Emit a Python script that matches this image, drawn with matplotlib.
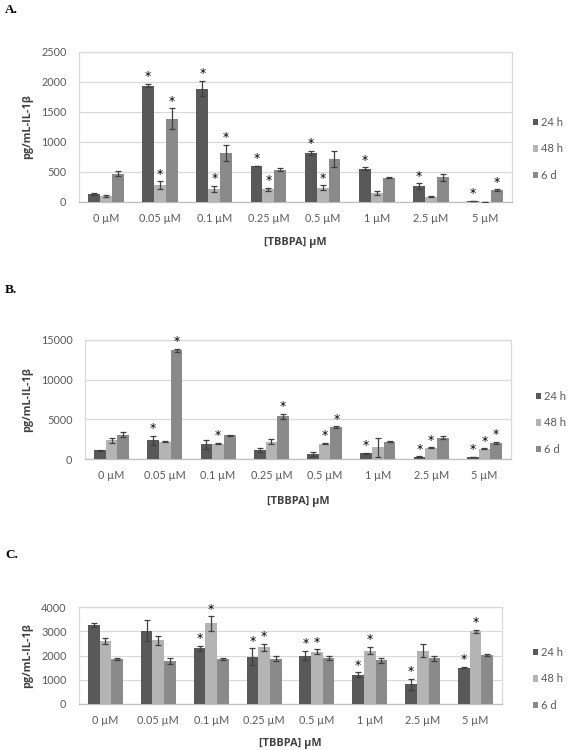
import matplotlib
matplotlib.use("Agg")
import matplotlib.pyplot as plt
import numpy as np
from matplotlib.patches import Patch

plt.rcParams['font.family'] = ['Lato', 'DejaVu Sans']

categories = ["0 µM", "0.05 µM", "0.1 µM", "0.25 µM", "0.5 µM", "1 µM", "2.5 µM", "5 µM"]
series_names = ["24 h", "48 h", "6 d"]

# Panel A
a_24h = [130, 1940, 1890, 600, 820, 550, 260, 20]
a_48h = [100, 280, 220, 210, 240, 150, 90, 0]
a_6d = [470, 1390, 820, 540, 720, 405, 410, 200]
a_24h_err = [20, 25, 125, 8, 35, 25, 50, 0]
a_48h_err = [20, 65, 55, 30, 40, 40, 10, 0]
a_6d_err = [45, 170, 135, 25, 130, 10, 55, 10]
a_stars = [[0, 1, 1, 1, 1, 1, 1, 1], [0, 1, 1, 1, 1, 0, 0, 0], [0, 1, 1, 0, 0, 0, 0, 1]]
a_ticks = [0, 500, 1000, 1500, 2000, 2500]

# Panel B
b_24h = [1100, 2350, 1850, 1100, 600, 700, 300, 250]
b_48h = [2350, 2200, 1950, 2200, 1950, 1450, 1400, 1300]
b_6d = [3050, 13700, 3000, 5400, 4000, 2200, 2700, 2050]
b_24h_err = [50, 550, 550, 250, 250, 80, 50, 30]
b_48h_err = [300, 100, 50, 350, 60, 1150, 60, 60]
b_6d_err = [300, 200, 50, 300, 100, 60, 200, 100]
b_stars = [[0, 1, 0, 0, 0, 1, 1, 1], [0, 0, 1, 0, 1, 0, 1, 1], [0, 1, 0, 1, 1, 0, 0, 1]]
b_ticks = [0, 5000, 10000, 15000]

# Panel C
c_24h = [3250, 3030, 2300, 1950, 2000, 1200, 820, 1500]
c_48h = [2600, 2630, 3320, 2330, 2160, 2200, 2200, 3000]
c_6d = [1850, 1780, 1860, 1870, 1900, 1800, 1880, 2020]
c_24h_err = [70, 420, 110, 350, 200, 100, 230, 20]
c_48h_err = [130, 180, 300, 140, 100, 150, 260, 70]
c_6d_err = [30, 130, 50, 100, 80, 90, 120, 30]
c_stars = [[0, 0, 1, 1, 1, 1, 1, 1], [0, 0, 1, 1, 1, 1, 0, 1], [0, 0, 0, 0, 0, 0, 0, 0]]
c_ticks = [0, 1000, 2000, 3000, 4000]

colors = ["#595959", "#b4b4b4", "#8a8a8a"]
text_gray = "#595959"
W, H = 568, 750

fig = plt.figure(figsize=(5.68, 7.5), dpi=100)


def px_axes(left, right, top, bottom):
    return fig.add_axes([left / W, 1 - bottom / H, (right - left) / W, (bottom - top) / H])


def panel(box, data, errs, stars, ticks, ylab_x, xlab_y, legend_xy, letter, letter_y):
    left, right, top, bottom = box
    ax = px_axes(left, right, top, bottom)
    x = np.arange(len(categories))
    bw = 0.22
    for i, (vals, err, st) in enumerate(zip(data, errs, stars)):
        pos = x + (i - 1) * bw
        ax.bar(pos, vals, bw, color=colors[i], label=series_names[i], zorder=3)
        ax.errorbar(pos, vals, yerr=err, fmt='none', ecolor="#404040", elinewidth=0.9,
                    capsize=2.5, capthick=0.9, zorder=4)
        for p, v, e, s in zip(pos, vals, err, st):
            if s:
                ax.annotate('*', (p, v + e), xytext=(0, 0.5), textcoords='offset points',
                            ha='center', va='bottom', fontsize=9, color='black',
                            family='DejaVu Sans', zorder=5)
    ax.set_xlim(-0.5, len(categories) - 0.5)
    ax.set_ylim(ticks[0], ticks[-1])
    ax.set_yticks(ticks)
    ax.set_yticklabels([str(t) for t in ticks])
    ax.set_xticks(x)
    ax.set_xticklabels(categories)
    ax.tick_params(length=0, labelsize=7.8, labelcolor=text_gray)
    ax.tick_params(axis='x', pad=8)
    ax.tick_params(axis='y', pad=9)
    ax.grid(axis='y', color="#d9d9d9", linewidth=0.9, zorder=0)
    for s in ax.spines.values():
        s.set_color("#d9d9d9")
        s.set_linewidth(0.9)
    ax.spines['bottom'].set_color("#bfbfbf")
    ax.set_ylabel("pg/mL-IL-1β", fontsize=7.8, fontweight='bold', color="#404040",
                  family=['Open Sans', 'DejaVu Sans'])
    ax.yaxis.set_label_coords((ylab_x - left) / (right - left), 0.5)
    ax.set_xlabel("[TBBPA] µM", fontsize=7.8, fontweight='bold', color="#404040",
                  family=['Open Sans', 'DejaVu Sans'])
    ax.xaxis.set_label_coords(0.5, -(xlab_y - bottom) / (bottom - top))
    handles = [Patch(facecolor=c, edgecolor='none') for c in colors]
    fig.legend(handles, series_names, loc='center left',
               bbox_to_anchor=(legend_xy[0] / W, 1 - legend_xy[1] / H),
               frameon=False, fontsize=8, handlelength=0.5, handleheight=0.5,
               handletextpad=0.3, labelspacing=1.4, labelcolor=text_gray, borderpad=0)
    fig.text(5 / W, 1 - letter_y / H, letter, fontsize=9.5, fontweight='bold',
             family='Liberation Serif', va='center', ha='left')
    return ax


panel((79, 512, 52, 202), [a_24h, a_48h, a_6d], [a_24h_err, a_48h_err, a_6d_err], a_stars,
      a_ticks, 33, 237, (527, 149), "A.", 10)
panel((85, 511, 340, 459), [b_24h, b_48h, b_6d], [b_24h_err, b_48h_err, b_6d_err], b_stars,
      b_ticks, 33, 496, (530, 423), "B.", 290)
panel((79, 502, 607, 704), [c_24h, c_48h, c_6d], [c_24h_err, c_48h_err, c_6d_err], c_stars,
      c_ticks, 33, 738, (527, 679), "C.", 555)

fig.savefig("out.png", dpi=100, facecolor='white')
